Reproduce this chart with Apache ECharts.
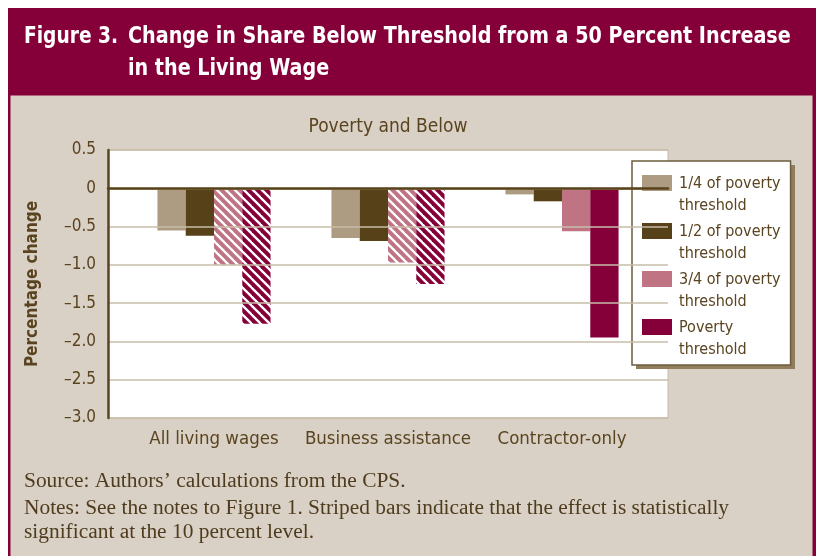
<!DOCTYPE html>
<html>
<head>
<meta charset="utf-8">
<script src="https://cdn.jsdelivr.net/npm/echarts@6/dist/echarts.min.js"></script>
<style>
html,body{margin:0;padding:0;background:#fff;}
#chart{width:817px;height:556px;}
</style>
</head>
<body>
<div id="chart"></div>
<script>
// ---- data ----
var categories = ['All living wages', 'Business assistance', 'Contractor-only'];
var seriesNames = ['1/4 of poverty threshold', '1/2 of poverty threshold', '3/4 of poverty threshold', 'Poverty threshold'];
var quarterThreshold = [-0.55, -0.65, -0.08];
var halfThreshold = [-0.62, -0.69, -0.17];
var threeQuarterThreshold = [-1.00, -0.97, -0.56];
var povertyThreshold = [-1.77, -1.25, -1.95];
var threeQuarterSignificant = [true, true, false];
var povertySignificant = [true, true, false];
var yTicks = [0.5, 0, -0.5, -1.0, -1.5, -2.0, -2.5, -3.0];

// ---- styles ----
var NARROW = "'DejaVu Sans Condensed', 'Liberation Sans Narrow', 'Liberation Sans', sans-serif";
var SERIF = "'Liberation Serif', 'DejaVu Serif', serif";
var BROWN = '#5a4420';
var colors = ['#ad9c82', '#574119', '#bf7383', '#850038'];

function stripe(base) {
  var p = 9;
  var c = document.createElement('canvas');
  c.width = p; c.height = p;
  var g = c.getContext('2d');
  g.fillStyle = base; g.fillRect(0, 0, p, p);
  g.strokeStyle = '#ffffff'; g.lineWidth = 2.3;
  [[0, 0], [0, p], [p, 0]].forEach(function (o) {
    g.beginPath();
    g.moveTo(o[0] - p, o[1] - p);
    g.lineTo(o[0] + p, o[1] + p);
    g.stroke();
  });
  return { image: c, repeat: 'repeat' };
}

function items(values, sig, base) {
  return values.map(function (v, i) {
    return { value: v, itemStyle: { color: (sig && sig[i]) ? stripe(base) : base } };
  });
}

var seriesData = [
  items(quarterThreshold, null, colors[0]),
  items(halfThreshold, null, colors[1]),
  items(threeQuarterThreshold, threeQuarterSignificant, colors[2]),
  items(povertyThreshold, povertySignificant, colors[3])
];

var chart = echarts.init(document.getElementById('chart'), null, { renderer: 'canvas' });

var titleFont = 'bold 23px ' + NARROW;
var noteFont = '20px ' + SERIF;

var option = {
  animation: false,
  graphic: [
    { type: 'rect', z: -100, silent: true, shape: { x: 8, y: 8, width: 808, height: 548 }, style: { fill: '#850038' } },
    { type: 'rect', z: -99, silent: true, shape: { x: 10.5, y: 95.5, width: 802, height: 470 }, style: { fill: '#d9d1c5' } },
    // legend shadow
    { type: 'rect', z: 3, silent: true, shape: { x: 636, y: 165, width: 159, height: 204 }, style: { fill: '#8f7d5e' } },
    { type: 'text', z: 100, x: 24, y: 37, scaleX: 0.9, style: { text: 'Figure 3.', fill: '#fff', font: titleFont, textVerticalAlign: 'middle' } },
    { type: 'text', z: 100, x: 128, y: 37, scaleX: 0.926, style: { text: 'Change in Share Below Threshold from a 50 Percent Increase', fill: '#fff', font: titleFont, textVerticalAlign: 'middle' } },
    { type: 'text', z: 100, x: 128, y: 69, scaleX: 0.926, style: { text: 'in the Living Wage', fill: '#fff', font: titleFont, textVerticalAlign: 'middle' } },
    { type: 'text', z: 100, x: 388, y: 127, style: { text: 'Poverty and Below', fill: BROWN, font: '19px ' + NARROW, textAlign: 'center', textVerticalAlign: 'middle' } },
    { type: 'text', z: 100, x: 24, y: 482, scaleX: 1.07, style: { text: 'Source: Authors\u2019 calculations from the CPS.', fill: '#4f3c1e', font: noteFont, textVerticalAlign: 'middle' } },
    { type: 'text', z: 100, x: 24, y: 509, scaleX: 1.07, style: { text: 'Notes: See the notes to Figure 1. Striped bars indicate that the effect is statistically', fill: '#4f3c1e', font: noteFont, textVerticalAlign: 'middle' } },
    { type: 'text', z: 100, x: 24, y: 533, scaleX: 1.07, style: { text: 'significant at the 10 percent level.', fill: '#4f3c1e', font: noteFont, textVerticalAlign: 'middle' } }
  ],
  grid: [
    { left: 108, top: 150, width: 560, height: 268, show: true, backgroundColor: '#ffffff', borderColor: '#c7bca9', borderWidth: 1, z: 0 },
    { left: 127, top: 150, width: 522, height: 268 }
  ],
  legend: {
    orient: 'vertical',
    left: 632, top: 161, z: 4,
    padding: [12, 10, 4, 10],
    itemWidth: 30, itemHeight: 44, itemGap: 4,
    icon: 'path://M0,0M0,2L30,2L30,18L0,18ZM0,44',
    backgroundColor: '#ffffff',
    borderColor: '#6e5c3c', borderWidth: 1.5,
    selectedMode: false,
    data: seriesNames,
    formatter: function (n) { return n.replace(/ of poverty /, ' of poverty\n').replace('Poverty threshold', 'Poverty\nthreshold'); },
    textStyle: { color: BROWN, fontFamily: NARROW, fontSize: 16, lineHeight: 22, padding: [0, 0, 0, 2] }
  },
  xAxis: [
    { gridIndex: 0, type: 'value', min: 0, max: 1, z: 10,
      axisLine: { show: true, onZero: true, lineStyle: { color: '#574119', width: 2.5 } },
      axisTick: { show: false }, axisLabel: { show: false }, splitLine: { show: false } },
    { gridIndex: 1, type: 'category', data: categories,
      axisLine: { show: false, onZero: false }, axisTick: { show: false },
      axisLabel: { interval: 0, margin: 12, color: BROWN, fontFamily: NARROW, fontSize: 18.5 } }
  ],
  yAxis: [
    { gridIndex: 0, type: 'value', min: -3, max: 0.5, interval: 0.5, z: 10,
      name: 'Percentage change', nameLocation: 'middle', nameGap: 67,
      nameTextStyle: { color: BROWN, fontFamily: NARROW, fontWeight: 'bold', fontSize: 17 },
      axisLine: { show: true, onZero: false, lineStyle: { color: '#5a4420', width: 2.5 } },
      axisTick: { show: false },
      axisLabel: { margin: 12, color: BROWN, fontFamily: NARROW, fontSize: 17,
        formatter: function (v) { return v === 0 ? '0' : (v < 0 ? '\u2013' : '') + Math.abs(v).toFixed(1); } },
      splitLine: { show: true, lineStyle: { color: '#c7bca9', width: 1.5 } } },
    { gridIndex: 1, type: 'value', min: -3, max: 0.5, interval: 0.5, show: false }
  ],
  series: seriesNames.map(function (name, i) {
    return {
      name: name, type: 'bar', xAxisIndex: 1, yAxisIndex: 1,
      barGap: '0%', barCategoryGap: '35%',
      itemStyle: { color: colors[i] },
      data: seriesData[i]
    };
  })
};
chart.setOption(option);
</script>
</body>
</html>
